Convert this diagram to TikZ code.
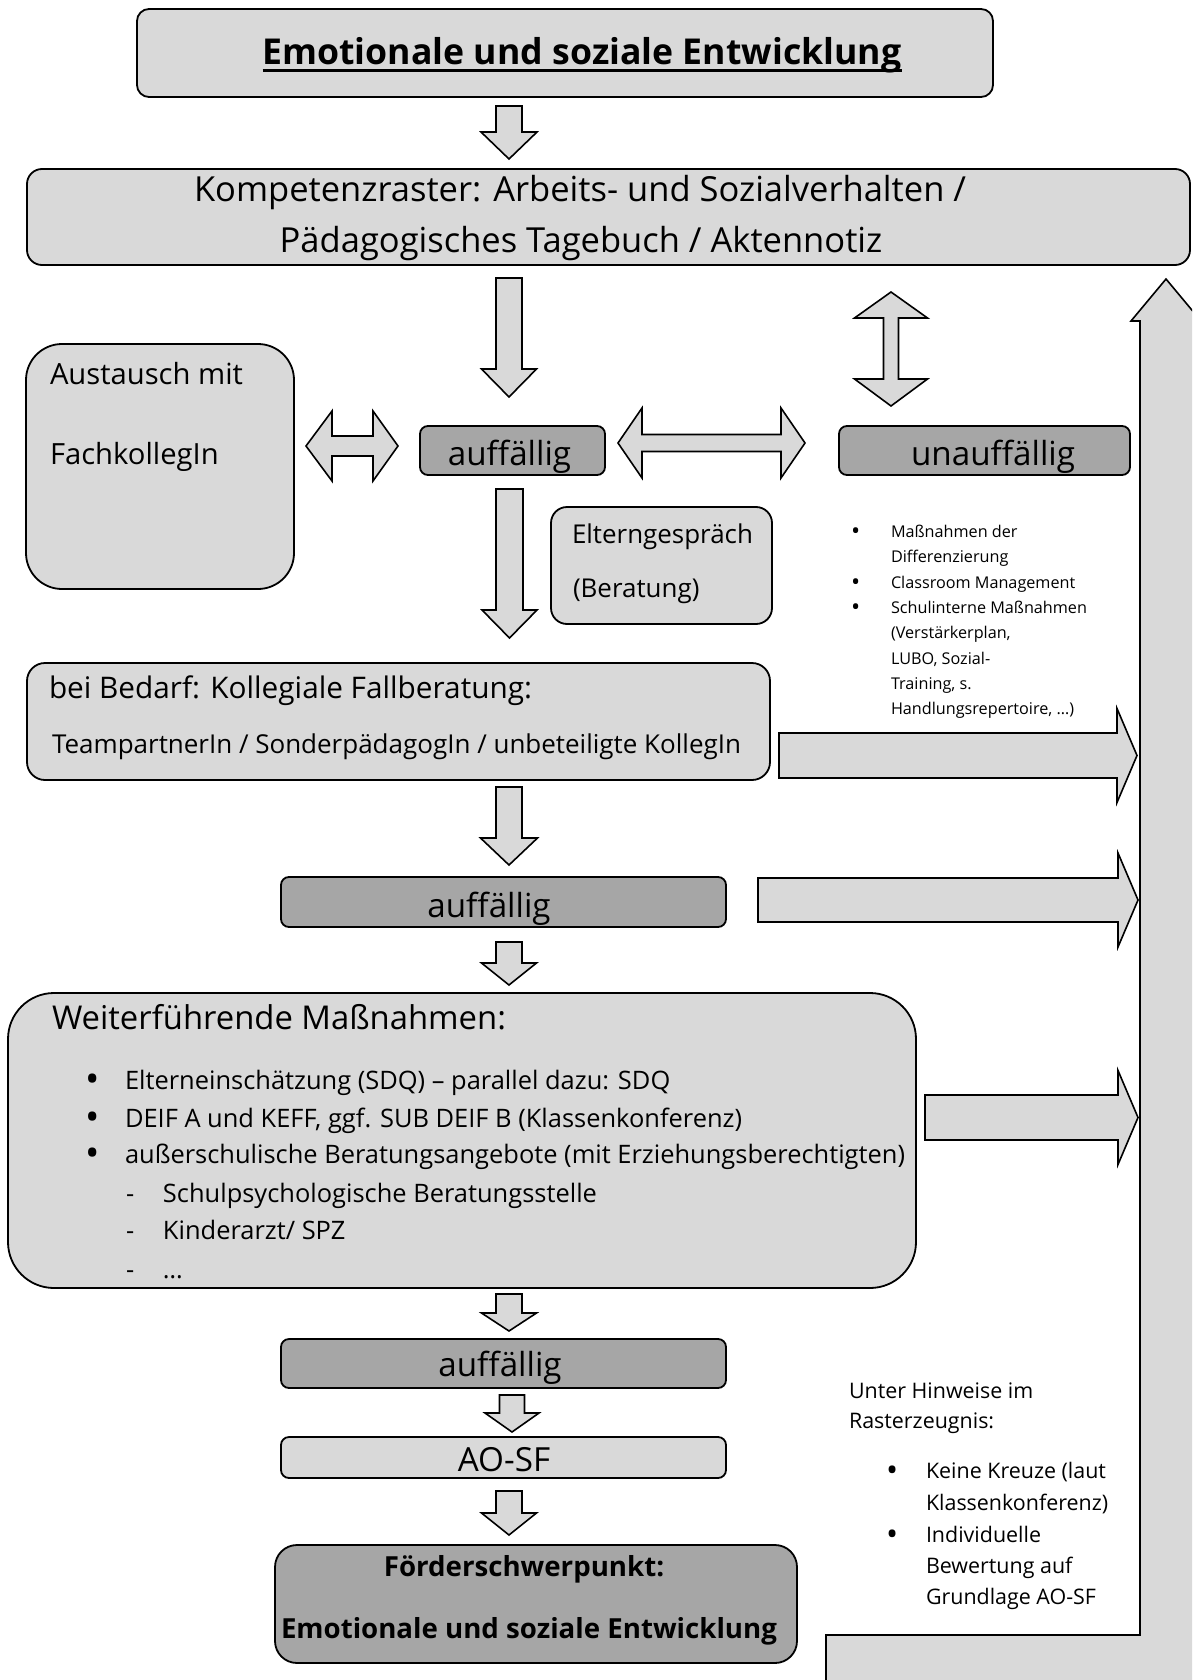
\documentclass[tikz,border=0pt]{standalone}
\usepackage{fontspec}
\setmainfont{Open Sans}
\definecolor{lg}{HTML}{D9D9D9}
\definecolor{dg}{HTML}{A6A6A6}
\newcommand\fs[1]{\fontsize{#1pt}{#1pt}\selectfont}
\newcommand\bul{\raisebox{-0.14em}{\scalebox{1.5}{\textbullet}}}
\newcommand\defsize[3]{\setbox0=\hbox{\normalfont\fontsize{10pt}{12pt}\selectfont #3}\edef\tmpwd{\the\wd0}\pgfmathsetmacro#1{10*#2/\tmpwd}\global\let#1#1}
\newcommand\dnarrow[6]{\draw[barrow] ({#1-#5},#2) -- ({#1+#5},#2) -- ({#1+#5},#3) -- ({#1+#6},#3) -- (#1,#4) -- ({#1-#6},#3) -- ({#1-#5},#3) -- cycle;}
\newcommand\rtarrow[6]{\draw[barrow] (#1,{#2-#5}) -- (#3,{#2-#5}) -- (#3,{#2-#6}) -- (#4,#2) -- (#3,{#2+#6}) -- (#3,{#2+#5}) -- (#1,{#2+#5}) -- cycle;}
\newcommand\hdarrow[7]{\draw[barrow] (#1,#5) -- (#2,{#5-#7}) -- (#2,{#5-#6}) -- (#3,{#5-#6}) -- (#3,{#5-#7}) -- (#4,#5) -- (#3,{#5+#7}) -- (#3,{#5+#6}) -- (#2,{#5+#6}) -- (#2,{#5+#7}) -- cycle;}
\newcommand\vdarrow[7]{\draw[barrow] (#5,#1) -- ({#5+#7},#2) -- ({#5+#6},#2) -- ({#5+#6},#3) -- ({#5+#7},#3) -- (#5,#4) -- ({#5-#7},#3) -- ({#5-#6},#3) -- ({#5-#6},#2) -- ({#5-#7},#2) -- cycle;}
\tikzset{
 bx/.style={draw, line width=1.8, inner sep=0, outer sep=0},
 lbox/.style={bx, fill=lg},
 dbox/.style={bx, fill=dg},
 txt/.style={inner sep=0, outer sep=0, anchor=base},
 txl/.style={inner sep=0, outer sep=0, anchor=base west},
 barrow/.style={draw, fill=lg, line width=1.6, line join=miter},
}
\AtBeginDocument{%
\defsize\szTitle{639}{\bfseries Emotionale und soziale Entwicklung}%
\defsize\szK{772}{Kompetenzraster: Arbeits- und Sozialverhalten /}%
\defsize\szAuff{164}{unauffällig}%
\defsize\szAus{193}{Austausch mit}%
\defsize\szElt{181}{Elterngespräch}%
\defsize\szBei{483}{bei Bedarf: Kollegiale Fallberatung:}%
\defsize\szTeam{689}{TeampartnerIn / SonderpädagogIn / unbeteiligte KollegIn}%
\defsize\szWeit{454}{Weiterführende Maßnahmen:}%
\defsize\szItem{780}{außerschulische Beratungsangebote (mit Erziehungsberechtigten)}%
\defsize\szSmall{196}{Schulinterne Maßnahmen}%
\defsize\szUnter{180}{Keine Kreuze (laut}%
\defsize\szFoe{496}{\bfseries Emotionale und soziale Entwicklung}%
}
\begin{document}
\begin{tikzpicture}[x=1pt,y=-1pt]
\useasboundingbox (0,0) rectangle (1192,1680);
\fill[white] (0,0) rectangle (1192,1680);
% big L-shaped return arrow
\begin{scope}
\clip (0,0) rectangle (1192,1680);
\draw[barrow] (826,1700) -- (826,1635) -- (1140,1635) -- (1140,321) -- (1131,321) -- (1166,279) -- (1201,321) -- (1194,321) -- (1194,1700) -- cycle;
\end{scope}
% down arrows
\dnarrow{509}{106}{132}{159}{13}{28}
\dnarrow{509}{278}{369}{397}{13}{27.5}
\dnarrow{509.5}{489}{610}{638}{13.5}{27.5}
\dnarrow{509}{787}{838}{865}{13}{28.5}
\dnarrow{509}{942}{963}{985}{13}{27.5}
\dnarrow{509}{1294}{1313}{1331}{13}{27.5}
\dnarrow{512}{1395}{1413}{1432}{12.5}{27}
\dnarrow{509}{1491}{1513}{1535}{13}{27.5}
% right arrows
\rtarrow{779}{755.5}{1117}{1137}{22.5}{47}
\rtarrow{758}{900}{1118}{1138}{22}{47}
\rtarrow{925}{1117.5}{1118}{1138}{22.5}{47}
% double arrows
\hdarrow{306}{332}{373}{398}{446}{10}{35}
\hdarrow{618}{642}{781}{805}{443}{8.5}{35}
\vdarrow{292}{318}{379}{406}{891}{7.5}{36.5}
% boxes
\node[lbox, rounded corners=12, minimum width=856, minimum height=88] (title) at (565,53) {};
\node[lbox, rounded corners=15, minimum width=1163, minimum height=96] (komp) at (608.5,217) {};
\node[lbox, rounded corners=36, minimum width=268, minimum height=245] (aus) at (160,466.5) {};
\node[dbox, rounded corners=8, minimum width=185, minimum height=49] (auff1) at (512.5,450.5) {};
\node[dbox, rounded corners=8, minimum width=291, minimum height=49] (unauff) at (984.5,450.5) {};
\node[lbox, rounded corners=16, minimum width=221, minimum height=117] (eltern) at (661.5,565.5) {};
\node[lbox, rounded corners=18, minimum width=743, minimum height=117] (bedarf) at (398.5,721.5) {};
\node[dbox, rounded corners=8, minimum width=445, minimum height=50] (auff2) at (503.5,902) {};
\node[lbox, rounded corners=46, minimum width=908, minimum height=295] (weiter) at (462,1140.5) {};
\node[dbox, rounded corners=8, minimum width=445, minimum height=49] (auff3) at (503.5,1363.5) {};
\node[lbox, rounded corners=8, minimum width=445, minimum height=41] (aosf) at (503.5,1457.5) {};
\node[dbox, rounded corners=22, minimum width=522, minimum height=118] (foerd) at (536,1604) {};
% texts
\node[txt, font=\fs\szTitle\bfseries] (ttext) at (582,65) {Emotionale und soziale Entwicklung};
\draw[line width=3] ([yshift=-5.5]ttext.base west) -- ([yshift=-5.5]ttext.base east);
\node[txt, font=\fs\szK] (k1) at (580,202) {Kompetenzraster: Arbeits- und Sozialverhalten /};
\node[txt, font=\fs\szK] (k2) at (581,252) {Pädagogisches Tagebuch / Aktennotiz};
\node[txl, font=\fs\szAus] (aus1) at (50,384) {Austausch mit};
\node[txl, font=\fs\szAus] (aus2) at (50,464) {FachkollegIn};
\node[txt, font=\fs\szAuff] (t-auff1) at (509.5,465) {auffällig};
\node[txt, font=\fs\szAuff] (t-unauff) at (993,465) {unauffällig};
\node[txl, font=\fs\szElt] (el1) at (572,543) {Elterngespräch};
\node[txl, font=\fs\szElt] (el2) at (573,597) {(Beratung)};
\node[txl, font=\fs\szSmall] (s1) at (851,537) {\makebox[40pt][l]{\bul}Maßnahmen der};
\node[txl, font=\fs\szSmall] (s2) at (891,562) {Differenzierung};
\node[txl, font=\fs\szSmall] (s3) at (851,588) {\makebox[40pt][l]{\bul}Classroom Management};
\node[txl, font=\fs\szSmall] (s4) at (851,613) {\makebox[40pt][l]{\bul}Schulinterne Maßnahmen};
\node[txl, font=\fs\szSmall] (s5) at (891,638) {(Verstärkerplan,};
\node[txl, font=\fs\szSmall] (s6) at (891,664) {LUBO, Sozial-};
\node[txl, font=\fs\szSmall] (s7) at (891,689) {Training, s.};
\node[txl, font=\fs\szSmall] (s8) at (891,714) {Handlungsrepertoire, …)};
\node[txl, font=\fs\szBei] (b1) at (49,698) {bei Bedarf: Kollegiale Fallberatung:};
\node[txl, font=\fs\szTeam] (b2) at (52,753) {TeampartnerIn / SonderpädagogIn / unbeteiligte KollegIn};
\node[txt, font=\fs\szAuff] (t-auff2) at (489,917) {auffällig};
\node[txl, font=\fs\szWeit] (w0) at (52,1029) {Weiterführende Maßnahmen:};
\node[txl, font=\fs\szItem] (w1) at (85,1089) {\makebox[40pt][l]{\bul}Elterneinschätzung (SDQ) – parallel dazu: SDQ};
\node[txl, font=\fs\szItem] (w2) at (85,1127) {\makebox[40pt][l]{\bul}DEIF A und KEFF, ggf. SUB DEIF B (Klassenkonferenz)};
\node[txl, font=\fs\szItem] (w3) at (85,1163) {\makebox[40pt][l]{\bul}außerschulische Beratungsangebote (mit Erziehungsberechtigten)};
\node[txl, font=\fs\szItem] (w4) at (126,1202) {\makebox[37pt][l]{-}Schulpsychologische Beratungsstelle};
\node[txl, font=\fs\szItem] (w5) at (126,1239) {\makebox[37pt][l]{-}Kinderarzt/ SPZ};
\node[txl, font=\fs\szItem] (w6) at (126,1278) {\makebox[37pt][l]{-}…};
\node[txt, font=\fs\szAuff] (t-auff3) at (500,1376) {auffällig};
\node[txt, font=\fs\szAuff] (t-aosf) at (504,1471) {AO-SF};
\node[txt, font=\fs\szFoe\bfseries] (f1) at (524,1576) {Förderschwerpunkt:};
\node[txt, font=\fs\szFoe\bfseries] (f2) at (529,1638) {Emotionale und soziale Entwicklung};
\node[txl, font=\fs\szUnter] (u1) at (849,1398) {Unter Hinweise im};
\node[txl, font=\fs\szUnter] (u2) at (849,1428) {Rasterzeugnis:};
\node[txl, font=\fs\szUnter] (u3) at (886,1478) {\makebox[40pt][l]{\bul}Keine Kreuze (laut};
\node[txl, font=\fs\szUnter] (u4) at (926,1510) {Klassenkonferenz)};
\node[txl, font=\fs\szUnter] (u5) at (886,1542) {\makebox[40pt][l]{\bul}Individuelle};
\node[txl, font=\fs\szUnter] (u6) at (926,1573) {Bewertung auf};
\node[txl, font=\fs\szUnter] (u7) at (926,1604) {Grundlage AO-SF};
\end{tikzpicture}
\end{document}
